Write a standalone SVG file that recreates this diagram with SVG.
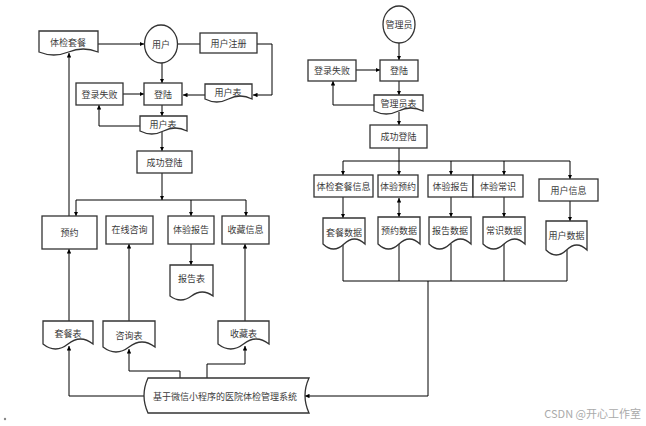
<svg xmlns="http://www.w3.org/2000/svg" width="646" height="426" viewBox="0 0 646 426">
<style>
.n{fill:#fff;stroke:#333;stroke-width:1.3}
.c{fill:none;stroke:#000;stroke-width:1}
.t{font-family:"Noto Sans CJK SC","Noto Sans",sans-serif;font-size:9px;fill:#3a3a3a;text-anchor:middle;dominant-baseline:central}
.w{font-family:"Noto Sans CJK SC","Noto Sans",sans-serif;font-size:11px;fill:#aaa;text-anchor:end}
</style>
<defs>
<marker id="a" viewBox="0 0 8 8" refX="8" refY="4" markerWidth="4.5" markerHeight="4.5" orient="auto-start-reverse" markerUnits="userSpaceOnUse"><path d="M0,0 L8,4 L0,8 Z" fill="#000"/></marker>
</defs>
<rect width="646" height="426" fill="#fff"/>
<g id="connectors">
<path class="c" d="M98,44 H144" marker-end="url(#a)"/>
<path class="c" d="M177,44 H200"/>
<path class="c" d="M257,44 H272 V95 H253" marker-end="url(#a)"/>
<path class="c" d="M205,95 H183" marker-end="url(#a)"/>
<path class="c" d="M162,63 V83" marker-end="url(#a)"/>
<path class="c" d="M123,94 H144" marker-end="url(#a)"/>
<path class="c" d="M162,105 V116" marker-end="url(#a)"/>
<path class="c" d="M140,126 H99 V105" marker-end="url(#a)"/>
<path class="c" d="M162,132 V151" marker-end="url(#a)"/>
<path class="c" d="M162,173 V200" marker-end="url(#a)"/>
<path class="c" d="M76,200 H246"/>
<path class="c" d="M76,200 V216" marker-end="url(#a)"/>
<path class="c" d="M191,200 V216" marker-end="url(#a)"/>
<path class="c" d="M246,200 V216" marker-end="url(#a)"/>
<path class="c" d="M69,216 V53" marker-end="url(#a)"/>
<path class="c" d="M191,244 V265" marker-end="url(#a)"/>
<path class="c" d="M69,321 V249" marker-end="url(#a)"/>
<path class="c" d="M129,321 V244" marker-end="url(#a)"/>
<path class="c" d="M245,321 V244" marker-end="url(#a)"/>
<path class="c" d="M145,396 H69 V346" marker-end="url(#a)"/>
<path class="c" d="M180,378 V371 H129 V349" marker-end="url(#a)"/>
<path class="c" d="M207,378 V364 H245 V346" marker-end="url(#a)"/>
<path class="c" d="M399,43 V60" marker-end="url(#a)"/>
<path class="c" d="M356,70 H380" marker-end="url(#a)"/>
<path class="c" d="M399,81 V95" marker-end="url(#a)"/>
<path class="c" d="M374,105 H333 V81" marker-end="url(#a)"/>
<path class="c" d="M399,112 V125" marker-end="url(#a)"/>
<path class="c" d="M399,148 V161"/>
<path class="c" d="M343,161 H570"/>
<path class="c" d="M343,161 V175" marker-end="url(#a)"/>
<path class="c" d="M399,161 V175" marker-end="url(#a)"/>
<path class="c" d="M451,161 V175" marker-end="url(#a)"/>
<path class="c" d="M504,161 V175" marker-end="url(#a)"/>
<path class="c" d="M570,161 V179" marker-end="url(#a)"/>
<path class="c" d="M343,197 V218" marker-end="url(#a)"/>
<path class="c" d="M399,198 V217" marker-start="url(#a)" marker-end="url(#a)"/>
<path class="c" d="M451,197 V217" marker-end="url(#a)"/>
<path class="c" d="M504,197 V217" marker-end="url(#a)"/>
<path class="c" d="M570,201 V221" marker-end="url(#a)"/>
<path class="c" d="M343,244 V281 H567 V250 M399,244 V281 M451,244 V281 M504,244 V281"/>
<path class="c" d="M428,281 V396 H305" marker-end="url(#a)"/>
</g>
<g id="n-tjtc"><path class="n" d="M39,31 H98 V52 Q83.25,46 68.5,52 T39,52 Z"/><text class="t" x="68" y="42">体检套餐</text></g>
<g id="n-user"><ellipse class="n" cx="161" cy="44" rx="16.5" ry="19"/><text class="t" x="161" y="44">用户</text></g>
<g id="n-reg"><rect class="n" x="200" y="33" width="57" height="20"/><text class="t" x="228.5" y="43">用户注册</text></g>
<g id="n-usertab1"><path class="n" d="M205,84 H252 V99 Q240.25,93 228.5,99 T205,99 Z"/><text class="t" x="228" y="92">用户表</text></g>
<g id="n-login"><rect class="n" x="144" y="83" width="38" height="22"/><text class="t" x="163" y="94">登陆</text></g>
<g id="n-fail"><rect class="n" x="76" y="83" width="47" height="22"/><text class="t" x="99.5" y="94">登录失败</text></g>
<g id="n-usertab2"><path class="n" d="M140,116 H187 V131 Q175.25,125 163.5,131 T140,131 Z"/><text class="t" x="163" y="124">用户表</text></g>
<g id="n-ok"><rect class="n" x="137" y="151" width="55" height="22"/><text class="t" x="164.5" y="162">成功登陆</text></g>
<g id="n-yy"><rect class="n" x="42" y="216" width="55" height="33"/><text class="t" x="69.5" y="232">预约</text></g>
<g id="n-zx"><rect class="n" x="106" y="216" width="47" height="28"/><text class="t" x="129.5" y="229">在线咨询</text></g>
<g id="n-bg"><rect class="n" x="168" y="216" width="46" height="28"/><text class="t" x="191" y="229">体验报告</text></g>
<g id="n-sc"><rect class="n" x="222" y="216" width="47" height="28"/><text class="t" x="245.5" y="229">收藏信息</text></g>
<g id="n-bgb"><path class="n" d="M170,265 H213 V296 Q202.25,288 191.5,296 T170,296 Z"/><text class="t" x="191.5" y="278">报告表</text></g>
<g id="n-tcb"><path class="n" d="M43,321 H93 V344 Q80.5,334 68,344 T43,344 Z"/><text class="t" x="68" y="333">套餐表</text></g>
<g id="n-zxb"><path class="n" d="M103,321 H155 V347 Q142,337 129,347 T103,347 Z"/><text class="t" x="129" y="335">咨询表</text></g>
<g id="n-scb"><path class="n" d="M218,321 H269 V344 Q256.25,334 243.5,344 T218,344 Z"/><text class="t" x="243.5" y="333">收藏表</text></g>
<g id="n-sys"><path class="n" d="M148,378 H309 Q301,395.5 309,413 H148 Q140,395.5 148,378 Z"/><text class="t" x="225" y="396">基于微信小程序的医院体检管理系统</text></g>
<g id="n-admin"><ellipse class="n" cx="399" cy="24.5" rx="16" ry="18.5"/><text class="t" x="399" y="24">管理员</text></g>
<g id="n-alogin"><rect class="n" x="380" y="60" width="38" height="21"/><text class="t" x="399" y="70">登陆</text></g>
<g id="n-afail"><rect class="n" x="308" y="60" width="48" height="21"/><text class="t" x="332" y="70">登录失败</text></g>
<g id="n-admintab"><path class="n" d="M374,95 H423 V111 Q410.75,105 398.5,111 T374,111 Z"/><text class="t" x="398.5" y="103">管理员表</text></g>
<g id="n-aok"><rect class="n" x="370" y="125" width="57" height="23"/><text class="t" x="398.5" y="136">成功登陆</text></g>
<g id="n-tcxx"><rect class="n" x="314" y="175" width="59" height="22"/><text class="t" x="343.5" y="186">体检套餐信息</text></g>
<g id="n-tyyy"><rect class="n" x="378" y="175" width="40" height="22"/><text class="t" x="398" y="186">体验预约</text></g>
<g id="n-tybg"><rect class="n" x="428" y="175" width="45" height="22"/><text class="t" x="450.5" y="186">体验报告</text></g>
<g id="n-tycs"><rect class="n" x="473" y="175" width="50" height="22"/><text class="t" x="498" y="186">体验常识</text></g>
<g id="n-yhxx"><rect class="n" x="539" y="179" width="59" height="22"/><text class="t" x="568.5" y="190">用户信息</text></g>
<g id="n-tcsj"><path class="n" d="M323,218 H365 V244 Q354.5,234 344,244 T323,244 Z"/><text class="t" x="344" y="232">套餐数据</text></g>
<g id="n-yysj"><path class="n" d="M378,217 H420 V244 Q409.5,234 399,244 T378,244 Z"/><text class="t" x="399" y="230">预约数据</text></g>
<g id="n-bgsj"><path class="n" d="M429,217 H471 V244 Q460.5,234 450,244 T429,244 Z"/><text class="t" x="450" y="230">报告数据</text></g>
<g id="n-cssj"><path class="n" d="M483,217 H525 V244 Q514.5,234 504,244 T483,244 Z"/><text class="t" x="504" y="230">常识数据</text></g>
<g id="n-yhsj"><path class="n" d="M546,221 H587 V250 Q576.75,240 566.5,250 T546,250 Z"/><text class="t" x="566.5" y="235">用户数据</text></g>
<circle cx="5" cy="419" r="1.2" fill="#888"/>
<text class="w" x="641" y="418">CSDN @开心工作室</text>
</svg>
